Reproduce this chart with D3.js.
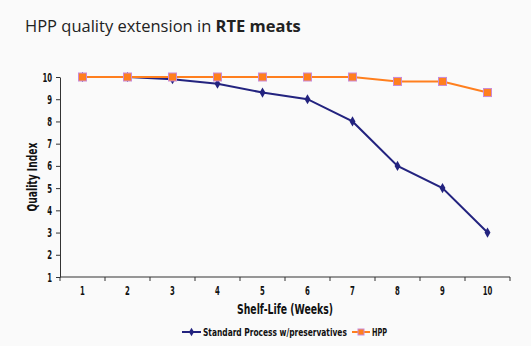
<!DOCTYPE html>
<html>
<head>
<meta charset="utf-8">
<script src="https://cdn.jsdelivr.net/npm/d3@7"></script>
<style>
  body { margin: 0; background: #fafafa; }
  svg { display: block; }
  .tick text { font-family: "DejaVu Sans Condensed", "Liberation Sans Narrow", sans-serif; font-weight: bold; font-size: 12.5px; fill: #111; }
  .axis path, .axis line { stroke: #333; }
</style>
</head>
<body>
<div class="chart"></div>
<script>
// data
const weeks = ['1','2','3','4','5','6','7','8','9','10'];
const standardVals = [10, 10, 9.9, 9.7, 9.3, 9.0, 8.0, 6.0, 5.0, 3.0];
const hppVals = [10, 10, 10, 10, 10, 10, 10, 9.8, 9.8, 9.3];
const yTicks = [1,2,3,4,5,6,7,8,9,10];

const W = 531, H = 346;
const margin = {top: 77, right: 21, bottom: 69, left: 60};
const cw = W - margin.left - margin.right;
const ch = H - margin.top - margin.bottom;
const narrow = '"DejaVu Sans Condensed", "Liberation Sans Narrow", sans-serif';

const svg = d3.select('.chart').append('svg').attr('width', W).attr('height', H);
svg.append('rect').attr('width', W).attr('height', H).attr('fill', '#fafafa');

// title
const title = svg.append('text').attr('x', 25).attr('y', 32)
  .style('font-family', '"Open Sans", sans-serif').style('font-size', '16.5px').style('fill', '#222');
title.append('tspan').text('HPP quality extension in ');
title.append('tspan').text('RTE meats').style('font-weight', 'bold');

const g = svg.append('g').attr('transform', `translate(${margin.left},${margin.top})`);

const x = d3.scaleBand().domain(weeks).range([0, cw]);
const y = d3.scaleLinear().domain([1, 10]).range([ch, 0]);

// x axis: ticks on category boundaries
const xAxisG = g.append('g').attr('class', 'axis').attr('transform', `translate(0,${ch})`);
xAxisG.append('line').attr('x1', 0).attr('x2', cw).attr('stroke', '#555');
xAxisG.selectAll('.bt').data(d3.range(weeks.length + 1)).enter().append('line')
  .attr('x1', i => i * x.step()).attr('x2', i => i * x.step())
  .attr('y1', 0).attr('y2', 4).attr('stroke', '#555');
xAxisG.selectAll('.tick').data(weeks).enter().append('g').attr('class', 'tick')
  .append('text').attr('x', d => x(d) + x.bandwidth() / 2).attr('y', 18)
  .attr('text-anchor', 'middle')
  .attr('textLength', d => d.length * 4.8).attr('lengthAdjust', 'spacingAndGlyphs')
  .text(d => d);

const yAxis = d3.axisLeft(y).tickValues(yTicks).tickSize(4).tickPadding(4).tickSizeOuter(0);
const yAxisG = g.append('g').attr('class', 'axis').call(yAxis);
yAxisG.select('.domain').attr('stroke', '#555');
yAxisG.selectAll('.tick line').attr('stroke', '#555');
yAxisG.selectAll('.tick text')
  .attr('textLength', d => String(d).length * 4.8).attr('lengthAdjust', 'spacingAndGlyphs');

// axis titles
svg.append('text').attr('x', margin.left + cw / 2).attr('y', 314).attr('text-anchor', 'middle')
  .style('font-family', narrow)
  .style('font-weight', 'bold').style('font-size', '14px').style('fill', '#111')
  .attr('textLength', 96).attr('lengthAdjust', 'spacingAndGlyphs')
  .text('Shelf-Life (Weeks)');
svg.append('text').attr('transform', `translate(37,${margin.top + ch / 2}) rotate(-90)`)
  .attr('text-anchor', 'middle')
  .style('font-family', narrow)
  .style('font-weight', 'bold').style('font-size', '14px').style('fill', '#111')
  .attr('textLength', 69).attr('lengthAdjust', 'spacingAndGlyphs')
  .text('Quality Index');

const cx = (d, i) => x(weeks[i]) + x.bandwidth() / 2;
const line = d3.line().x((d, i) => cx(d, i)).y(d => y(d));

const blue = '#23237f', orange = '#ff7f1e';

// standard series
g.append('path').datum(standardVals).attr('d', line)
  .attr('fill', 'none').attr('stroke', blue).attr('stroke-width', 2);
g.selectAll('.dia').data(standardVals).enter().append('path')
  .attr('d', d3.symbol(d3.symbolDiamond, 30))
  .attr('transform', (d, i) => `translate(${cx(d, i)},${y(d)})`)
  .attr('fill', blue);

// hpp series
g.append('path').datum(hppVals).attr('d', line)
  .attr('fill', 'none').attr('stroke', orange).attr('stroke-width', 2);
g.selectAll('.sq').data(hppVals).enter().append('rect')
  .attr('x', (d, i) => cx(d, i) - 4).attr('y', d => y(d) - 4)
  .attr('width', 8).attr('height', 8)
  .attr('fill', orange).attr('stroke', '#c98ad6').attr('stroke-width', 1);

// legend
const leg = svg.append('g').attr('transform', 'translate(182,332)');
leg.append('line').attr('x1', 0).attr('x2', 19).attr('stroke', blue).attr('stroke-width', 2);
leg.append('path').attr('d', d3.symbol(d3.symbolDiamond, 22)).attr('transform', 'translate(9.5,0)').attr('fill', blue);

// squeeze legend labels horizontally with a scale so their boxes match the drawn width
function legendLabel(x0, txt, width) {
  const t = leg.append('g').attr('transform', `translate(${x0},4)`).append('text')
    .style('font-family', narrow).style('font-weight', 'bold')
    .style('font-size', '11px').style('fill', '#111').text(txt);
  const w = t.node().getComputedTextLength();
  d3.select(t.node().parentNode).attr('transform', `translate(${x0},4) scale(${width / w},1)`);
}
legendLabel(21, 'Standard Process w/preservatives', 144);
leg.append('line').attr('x1', 170).attr('x2', 188).attr('stroke', orange).attr('stroke-width', 2);
leg.append('rect').attr('x', 176).attr('y', -3).attr('width', 6).attr('height', 6)
  .attr('fill', orange).attr('stroke', '#c98ad6').attr('stroke-width', 1);
legendLabel(190, 'HPP', 15);
</script>
</body>
</html>
